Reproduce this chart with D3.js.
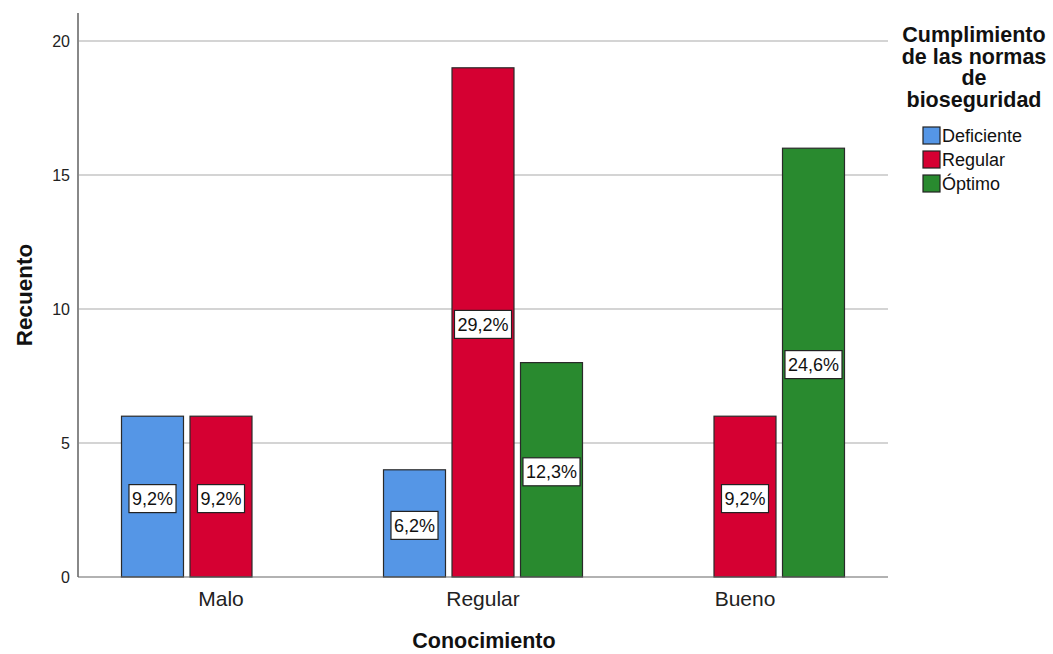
<!DOCTYPE html>
<html>
<head>
<meta charset="utf-8">
<script src="https://cdn.jsdelivr.net/npm/d3@7"></script>
<style>
  body { margin: 0; background: #fff; }
  svg { display: block; font-family: Arial, "Liberation Sans", sans-serif; }
</style>
</head>
<body>
<svg id="chart" width="1053" height="654"></svg>
<script>
// Conocimiento vs cumplimiento de las normas de bioseguridad
const categories = ["Malo", "Regular", "Bueno"];
const series = ["Deficiente", "Regular", "Óptimo"];
const colors = ["#5596e6", "#d50032", "#298a2f"];
const deficiente = [6, 4, null];
const regular = [6, 19, 6];
const optimo = [null, 8, 16];
const pctDeficiente = ["9,2%", "6,2%", null];
const pctRegular = ["9,2%", "29,2%", "9,2%"];
const pctOptimo = [null, "12,3%", "24,6%"];
const yTicks = [0, 5, 10, 15, 20];

const seriesValues = [deficiente, regular, optimo];
const seriesPct = [pctDeficiente, pctRegular, pctOptimo];

const FONT = "Arial, 'Liberation Sans', sans-serif";
const svg = d3.select("#chart");
const plot = { left: 78, right: 888, top: 13, bottom: 577 };

const x = d3.scaleBand().domain(categories).range([90, 876]).paddingInner(0).paddingOuter(0);
const xs = d3.scaleBand().domain(series).range([0, x.bandwidth()]).paddingInner(0.095).paddingOuter(0.46);
const y = d3.scaleLinear().domain([0, 20]).range([577, 41]);

// gridlines
svg.append("g").selectAll("line").data(yTicks.filter(d => d > 0)).join("line")
  .attr("x1", plot.left).attr("x2", plot.right)
  .attr("y1", d => y(d)).attr("y2", d => y(d))
  .attr("stroke", "#d4d4d4").attr("stroke-width", 2);

// y axis
const yAxis = svg.append("g").attr("transform", `translate(${plot.left},0)`)
  .call(d3.axisLeft(y).tickValues(yTicks).tickSize(0).tickPadding(8));
yAxis.select(".domain").remove();
yAxis.selectAll("text").attr("font-size", 16).attr("fill", "#222").attr("font-family", FONT);
svg.append("line").attr("x1", plot.left).attr("x2", plot.left)
  .attr("y1", plot.top).attr("y2", plot.bottom).attr("stroke", "#888").attr("stroke-width", 2);

// bars
const barData = [];
series.forEach((s, si) => {
  categories.forEach((c, ci) => {
    const v = seriesValues[si][ci];
    if (v != null) barData.push({ s, si, c, v, pct: seriesPct[si][ci] });
  });
});

svg.append("g").selectAll("rect").data(barData).join("rect")
  .attr("x", d => x(d.c) + xs(d.s))
  .attr("y", d => y(d.v))
  .attr("width", xs.bandwidth())
  .attr("height", d => y(0) - y(d.v))
  .attr("fill", d => colors[d.si])
  .attr("stroke", "#2a2a2a").attr("stroke-width", 1.2);

// x axis baseline
svg.append("line").attr("x1", plot.left).attr("x2", plot.right)
  .attr("y1", plot.bottom).attr("y2", plot.bottom).attr("stroke", "#666").attr("stroke-width", 1.2);

const xAxis = svg.append("g").attr("transform", `translate(0,${plot.bottom})`)
  .call(d3.axisBottom(x).tickSize(0).tickPadding(14));
xAxis.select(".domain").remove();
xAxis.selectAll("text").attr("font-size", 21).attr("fill", "#222").attr("font-family", FONT);

// percentage labels, centred on each bar's mid-height
const lab = svg.append("g").selectAll("g").data(barData).join("g")
  .attr("transform", d => `translate(${x(d.c) + xs(d.s) + xs.bandwidth() / 2},${y(d.v / 2) + 2})`);
lab.append("text")
  .attr("text-anchor", "middle").attr("dy", "0.36em")
  .attr("font-size", 18).attr("fill", "#111")
  .text(d => d.pct)
  .each(function () {
    const b = this.getBBox();
    d3.select(this.parentNode).insert("rect", "text")
      .attr("x", b.x - 3).attr("y", -14)
      .attr("width", b.width + 6).attr("height", 28)
      .attr("fill", "#fff").attr("stroke", "#222").attr("stroke-width", 1.2);
  });

// axis titles
svg.append("text").attr("x", 484).attr("y", 648).attr("text-anchor", "middle")
  .attr("font-size", 21.5).attr("font-weight", "bold").attr("fill", "#111").text("Conocimiento");
svg.append("text").attr("transform", "translate(32,295) rotate(-90)").attr("text-anchor", "middle")
  .attr("font-size", 22.5).attr("font-weight", "bold").attr("fill", "#111").text("Recuento");

// legend
const legTitle = ["Cumplimiento", "de las normas", "de", "bioseguridad"];
svg.append("g").selectAll("text").data(legTitle).join("text")
  .attr("x", 974).attr("y", (d, i) => 42 + i * 21.7).attr("text-anchor", "middle")
  .attr("font-size", 21.5).attr("font-weight", "bold").attr("fill", "#111").text(d => d);

const leg = svg.append("g").selectAll("g").data(series).join("g")
  .attr("transform", (d, i) => `translate(923,${127 + i * 24})`);
leg.append("rect").attr("width", 17).attr("height", 17)
  .attr("fill", (d, i) => colors[i]).attr("stroke", "#222").attr("stroke-width", 1.2);
leg.append("text").attr("x", 19).attr("y", 15).attr("font-size", 18).attr("fill", "#111").text(d => d);
</script>
</body>
</html>
